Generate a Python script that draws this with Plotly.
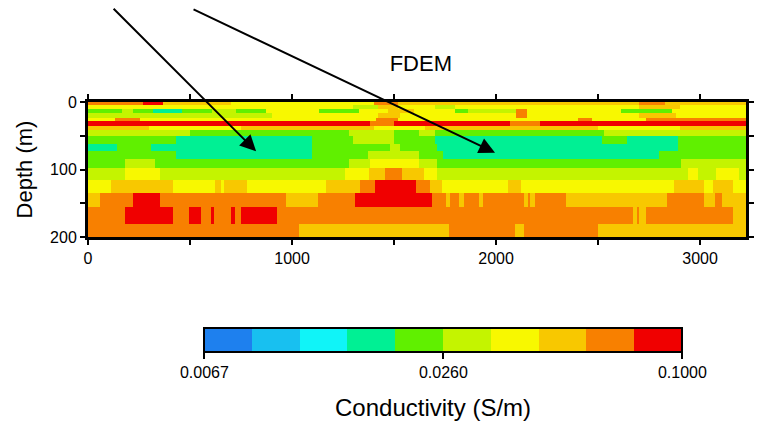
import plotly.graph_objects as go

# ---------------- data ----------------
# conductivity classes 0..9 (log-spaced from 0.0067 to 0.1 S/m)
class_colors = ["#1e80ee", "#18c0f0", "#10f4f8", "#00f094", "#60f000",
                "#c4f400", "#f8f800", "#f8c800", "#f88000", "#f00000"]
cbar_tick_text = ["0.0067", "0.0260", "0.1000"]

x_end = 3225
layer_edges = [0, 4, 10, 17, 24, 28, 35, 42, 51, 62, 73, 85, 98, 115, 135, 155, 180, 200]

L0 = [(0, 270, 8), (270, 370, 9), (370, 700, 7), (700, 1400, 6), (1400, 1520, 8),
      (1520, 2700, 7), (2700, 2830, 8), (2830, 3225, 7)]
L1 = [(0, 1300, 6), (1300, 1420, 5), (1420, 1520, 7), (1520, 1700, 6), (1700, 1800, 5),
      (1800, 2700, 6), (2700, 2900, 7), (2900, 3225, 6)]
L2 = [(0, 165, 4), (165, 220, 5), (220, 320, 4), (320, 460, 3), (460, 610, 4), (610, 725, 5),
      (725, 870, 4), (870, 1130, 6), (1130, 1330, 4), (1330, 1470, 6), (1470, 1600, 7),
      (1600, 1800, 6), (1800, 1860, 4), (1860, 2100, 5), (2100, 2150, 8), (2150, 2610, 6),
      (2610, 2860, 4), (2860, 3225, 6)]
L3 = [(0, 900, 5), (900, 1420, 6), (1420, 1530, 7), (1530, 2100, 6), (2100, 2150, 8),
      (2150, 2700, 6), (2700, 2880, 7), (2880, 3225, 6)]
L4 = [(0, 130, 6), (130, 255, 8), (255, 1410, 6), (1410, 1520, 8), (1520, 2400, 6),
      (2400, 2470, 8), (2470, 2735, 6), (2735, 3225, 8)]
L5 = [(0, 1380, 9), (1380, 1500, 8), (1500, 2070, 9), (2070, 2215, 8), (2215, 3225, 9)]
L6 = [(0, 300, 7), (300, 750, 6), (750, 1400, 7), (1400, 1650, 6), (1650, 2500, 7),
      (2500, 2900, 6), (2900, 3225, 7)]
L7 = [(0, 500, 5), (500, 1280, 4), (1280, 1500, 5), (1500, 1620, 4), (1620, 1700, 5),
      (1700, 2530, 4), (2530, 3225, 5)]
L8 = [(0, 430, 4), (430, 1100, 3), (1100, 1300, 4), (1300, 1500, 5), (1500, 1700, 4),
      (1700, 2520, 3), (2520, 2640, 4), (2640, 2890, 3), (2890, 3225, 4)]
L9 = [(0, 140, 3), (140, 310, 4), (310, 1100, 3), (1100, 1480, 4), (1480, 1530, 5),
      (1530, 1710, 4), (1710, 2890, 3), (2890, 3225, 4)]
L10 = [(0, 430, 4), (430, 1100, 3), (1100, 1370, 4), (1370, 1620, 5), (1620, 1740, 4),
       (1740, 2800, 3), (2800, 3225, 4)]
L11 = [(0, 180, 4), (180, 330, 5), (330, 1280, 4), (1280, 1380, 5), (1380, 1620, 6),
       (1620, 1710, 5), (1710, 2905, 4), (2905, 3225, 5)]
L12 = [(0, 180, 5), (180, 355, 6), (355, 1260, 5), (1260, 1376, 6), (1376, 1455, 7),
       (1455, 1537, 8), (1537, 1645, 7), (1645, 1710, 6), (1710, 2940, 5), (2940, 2990, 6),
       (2990, 3080, 5), (3080, 3190, 6), (3190, 3225, 5)]
L13 = [(0, 115, 6), (115, 415, 7), (415, 620, 6), (620, 650, 7), (650, 665, 6), (665, 780, 7),
       (780, 1165, 6), (1165, 1335, 7), (1335, 1405, 8), (1405, 1610, 9), (1610, 1676, 8),
       (1676, 1733, 7), (1733, 2058, 6), (2058, 2124, 7), (2124, 2870, 6), (2870, 3020, 7),
       (3020, 3065, 6), (3065, 3160, 7), (3160, 3225, 6)]
L14 = [(0, 60, 7), (60, 220, 8), (220, 355, 9), (355, 970, 8), (970, 1125, 7), (1125, 1310, 8),
       (1310, 1685, 9), (1685, 1755, 8), (1755, 1775, 7), (1775, 1820, 8), (1820, 1845, 7),
       (1845, 1915, 8), (1915, 1935, 7), (1935, 2135, 8), (2135, 2155, 7), (2155, 2165, 8),
       (2165, 2190, 7), (2190, 2345, 8), (2345, 2840, 7), (2840, 3020, 8), (3020, 3075, 7),
       (3075, 3105, 8), (3105, 3225, 7)]
L15 = [(0, 180, 8), (180, 415, 9), (415, 495, 8), (495, 555, 9), (555, 603, 8), (603, 616, 9),
       (616, 700, 8), (700, 720, 9), (720, 750, 8), (750, 928, 9), (928, 2670, 8),
       (2670, 2690, 7), (2690, 2700, 8), (2700, 2735, 7), (2735, 3160, 8), (3160, 3225, 7)]
L16 = [(0, 1035, 8), (1035, 1770, 7), (1770, 2095, 8), (2095, 2135, 7), (2135, 2500, 8),
       (2500, 3225, 7)]
layers = [L0, L1, L2, L3, L4, L5, L6, L7, L8, L9, L10, L11, L12, L13, L14, L15, L16]

# arrow targets (distance m, depth m)
arrow_x = [824, 1995]
arrow_y = [73, 75]

# ---------------- build grid ----------------
breaks = sorted({p for lay in layers for seg in lay for p in seg[:2]} | {0, x_end})
z = []
for lay in layers:
    row = []
    for a, b in zip(breaks[:-1], breaks[1:]):
        mid = 0.5 * (a + b)
        c = next((s[2] for s in lay if s[0] <= mid < s[1]), lay[-1][2])
        row.append(c + 0.5)
    z.append(row)

n = len(class_colors)
cs = []
for i, col in enumerate(class_colors):
    cs.append([i / n, col])
    cs.append([(i + 1) / n, col])

FONT = "Liberation Sans, Arial, sans-serif"
L, R, T, B = 88, 17, 102, 184
W, H = 766, 421
pw, ph = W - L - R, H - T - B

fig = go.Figure(go.Heatmap(
    x=breaks, y=layer_edges, z=z, zmin=0, zmax=n,
    colorscale=cs, hoverinfo="skip",
    colorbar=dict(
        orientation="h",
        x=(445 - L) / pw, xanchor="center", y=-(328 - (H - B)) / ph, yanchor="top",
        len=478, lenmode="pixels", thickness=24, thicknessmode="pixels",
        outlinewidth=2, outlinecolor="black", xpad=0, ypad=0,
        tickvals=[0, n / 2, n], ticktext=cbar_tick_text,
        ticks="outside", ticklen=6, tickcolor="black", tickwidth=1.5,
        tickfont=dict(size=16, color="black", family=FONT),
    ),
))

fig.add_annotation(x=arrow_x[0], y=arrow_y[0], xref="x", yref="y", text="",
                   showarrow=True, arrowhead=2, arrowsize=1.6, arrowwidth=2,
                   arrowcolor="black", ax=-144, ay=-144, standoff=0)
fig.add_annotation(x=arrow_x[1], y=arrow_y[1], xref="x", yref="y", text="",
                   showarrow=True, arrowhead=2, arrowsize=1.6, arrowwidth=2,
                   arrowcolor="black", ax=-303, ay=-144, standoff=0)
# colour-bar title
fig.add_annotation(text="Conductivity (S/m)", xref="paper", yref="paper",
                   x=(435 - L) / pw, y=-(407 - (H - B)) / ph, xanchor="center",
                   yanchor="middle", showarrow=False,
                   font=dict(size=24, color="black", family=FONT))

fig.update_layout(
    width=W, height=H,
    margin=dict(l=L, r=R, t=T, b=B),
    paper_bgcolor="white", plot_bgcolor="white",
    font=dict(family=FONT, color="black"),
    title=dict(text="FDEM", x=(88 + 749) / 2 / 766 + 0.003, xanchor="center",
               y=1 - 63 / 421, yanchor="middle",
               font=dict(size=22, color="black", family=FONT)),
    xaxis=dict(range=[0, x_end], tickvals=[0, 1000, 2000, 3000],
               ticks="outside", ticklen=5, tickwidth=1.5, tickcolor="black",
               minor=dict(tickvals=[500, 1500, 2500], ticks="outside", ticklen=5,
                          tickwidth=1.5, tickcolor="black"),
               showline=True, linewidth=3, linecolor="black", mirror="ticks",
               showgrid=False, zeroline=False,
               tickfont=dict(size=16, color="black", family=FONT)),
    yaxis=dict(range=[200, 0], tickvals=[0, 100, 200],
               ticks="outside", ticklen=5, tickwidth=1.5, tickcolor="black",
               minor=dict(tickvals=[50, 150], ticks="outside", ticklen=5,
                          tickwidth=1.5, tickcolor="black"),
               showline=True, linewidth=3, linecolor="black", mirror="ticks",
               showgrid=False, zeroline=False,
               title=dict(text="Depth (m)", font=dict(size=22, color="black", family=FONT),
                          standoff=12),
               tickfont=dict(size=16, color="black", family=FONT)),
)

fig.write_html("out.html")
